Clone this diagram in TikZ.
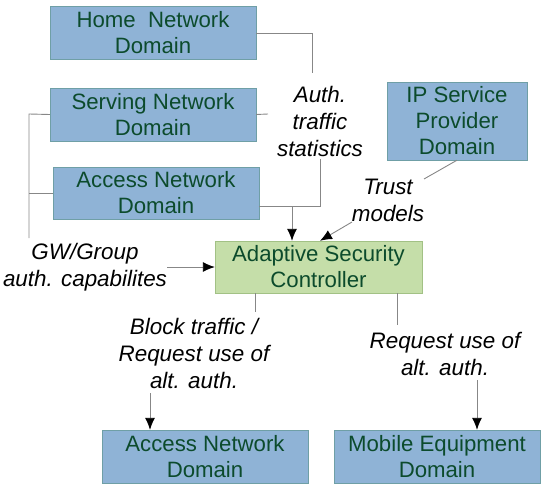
\documentclass[tikz,border=0pt]{standalone}
\usepackage{fontspec}
\setmainfont{Liberation Sans}
\usetikzlibrary{arrows.meta}
\definecolor{domfill}{HTML}{8FB3D6}
\definecolor{domline}{HTML}{6F9FA6}
\definecolor{domtext}{HTML}{0C4B2C}
\definecolor{ascfill}{HTML}{C5DEA9}
\definecolor{ascline}{HTML}{A2C185}
\definecolor{wire}{HTML}{878787}

\begin{document}
\begin{tikzpicture}[x=1pt,y=-1pt,
    dom/.style={draw=domline,fill=domfill,text=domtext,align=center,
      minimum width=206pt,minimum height=53pt,inner sep=0pt,
      font=\fontsize{22.2}{26}\selectfont},
    ctrl/.style={dom,draw=ascline,fill=ascfill,minimum width=207pt,minimum height=52pt},
    lbl/.style={align=center,inner sep=0pt,font=\fontsize{22.4}{27}\selectfont\itshape},
    wire/.style={draw=wire,line width=0.9pt},
    feed/.style={wire,-{Latex[length=12pt,width=10pt,black]}}]
  \useasboundingbox (0,0) rectangle (550,490);

  % domains
  \node[dom] (home) at (153,33) {Home\ \ Network\\Domain};
  \node[dom] (serving) at (153,114.5) {Serving Network\\Domain};
  \node[dom,minimum height=52pt] (access) at (156,193) {Access Network\\Domain};
  \node[dom,minimum width=140pt,minimum height=78pt] (ip) at (457,121) {IP Service\\Provider\\Domain};
  \node[ctrl] (asc) at (318.5,267) {Adaptive Security\\Controller};
  \node[dom] (accessb) at (205,456.5) {Access Network\\Domain};
  \node[dom] (mobile) at (437,456.5) {Mobile Equipment\\Domain};

  % labels
  \node[lbl] (stats) at (320,121) {Auth.\\traffic\\statistics};
  \node[lbl] (trust) at (388,200) {Trust\\models};
  \node[lbl] (gw) at (85,267) {GW/Group\\auth. capabilites};
  \node[lbl] (block) at (194,353) {Block traffic /\\Request use of\\alt. auth.};
  \node[lbl] (req) at (445,354) {Request use of\\alt. auth.};

  \coordinate (hs) at (312,73);
  \coordinate (ss) at (268,114);
  \coordinate (st) at (320,159);
  \coordinate (join) at (320,206);
  \coordinate (tap) at (292,206);
  \coordinate (bus) at (29,114);
  \coordinate (busend) at (29,238);
  \coordinate (ipend) at (424,179);
  \coordinate (trs) at (352,222);
  \coordinate (gws) at (167,267);
  \coordinate (bk1) at (255,312);
  \coordinate (bk2) at (150,393);
  \coordinate (rq1) at (397,325);
  \coordinate (rq2) at (477,380);

  % inputs
  \draw[wire] (home.east) -| (hs);
  \draw[wire] (serving.east) -- (ss);
  \draw[wire] (st) -- (join) -- (access.east |- join);
  \draw[feed] (tap) -- (asc.north -| tap);
  \draw[wire] (serving.west) -- (bus) -- (busend);
  \draw[wire] (access.west) -- (access.west -| bus);
  \draw[feed] (gws) -- (asc.west);
  \draw[wire] (ip.south) -- (ipend);
  \draw[feed] (trs) -- (asc.north -| join);

  % outputs
  \draw[wire] (asc.south -| bk1) -- (bk1);
  \draw[feed] (bk2) -- (accessb.north -| bk2);
  \draw[wire] (asc.south -| rq1) -- (rq1);
  \draw[feed] (rq2) -- (mobile.north -| rq2);
\end{tikzpicture}
\end{document}
